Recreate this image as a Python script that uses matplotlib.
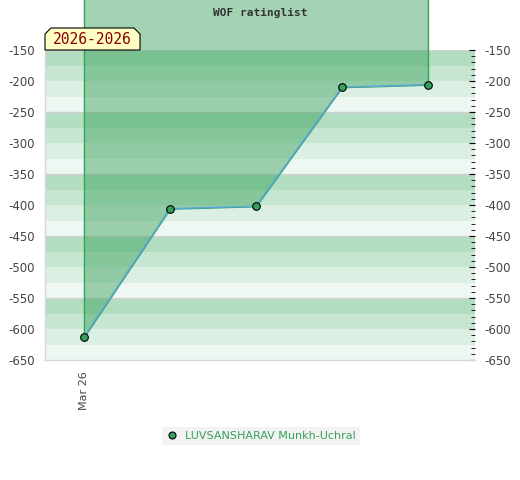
import matplotlib
matplotlib.use("Agg")
import matplotlib.pyplot as plt
import numpy as np
from matplotlib.lines import Line2D
from matplotlib.patches import Polygon

plt.rcParams["axes.unicode_minus"] = False

# data
dates = ["Mar 26", "", "", "", ""]
rating = [-613, -406, -402, -210, -206]
player = "LUVSANSHARAV Munkh-Uchral"
period = "2026-2026"
title = "WOF ratinglist"

y_min, y_max = -650, -150
fill_top = -60
band_colors = ["#b2ddc1", "#c7e6d2", "#dcefe3", "#eff7f2"]

W, H = 520, 480
fig = plt.figure(figsize=(W / 100, H / 100), dpi=100)
ax = fig.add_axes([45 / W, 1 - 360 / H, 430 / W, 310 / H])

x = np.arange(len(rating))

# background bands, 25 rating points each
for i, top in enumerate(range(y_max, y_min, -25)):
    ax.axhspan(top - 25, top, color=band_colors[i % 4], lw=0, zorder=0)
for yy in range(y_max, y_min, -100):
    ax.axhline(yy, color="#d2d2d2", lw=1, zorder=1)

ax.fill_between(x, rating, fill_top, facecolor=(0.208, 0.624, 0.345, 0.45),
                edgecolor="#2fa65a", lw=1, clip_on=False, zorder=2)
ax.plot(x, rating, color="#5aa5dc", lw=1, zorder=3)
ax.plot(x, rating, ls="none", marker="o", ms=5.5, mfc="#35a05a",
        mec="black", mew=0.8, zorder=4, clip_on=False)

ax.set_xlim(-0.453, 4.547)
ax.set_ylim(y_min, y_max)
ax.set_xticks(x)
ax.set_xticklabels(dates, rotation=90, fontsize=8, color="#444444")
ax.tick_params(axis="x", length=0, pad=8)

ax.set_yticks(np.arange(y_min, y_max + 1, 50))
ax.set_yticks(np.arange(y_min, y_max + 1, 10), minor=True)
ax.tick_params(axis="y", which="both", labelsize=8.5, labelcolor="#444444",
               left=False, right=True, labelleft=True, labelright=True,
               direction="in", color="black")
ax.tick_params(axis="y", which="major", length=4, pad=7)
ax.tick_params(axis="y", which="minor", length=3)

for side in ["top", "right"]:
    ax.spines[side].set_visible(False)
for side in ["left", "bottom"]:
    ax.spines[side].set_color("#d8d8d8")
    ax.spines[side].set_linewidth(1)

fig.text(260 / W, 1 - 13 / H, title, ha="center", va="center",
         fontsize=8, fontweight="bold", family="DejaVu Sans Mono",
         color="#333333")

# period label box with chamfered top corners
px = [45, 45, 51, 134, 140, 140]
py = [50, 34, 28, 28, 34, 50]
box = Polygon(np.column_stack([np.array(px) / W, 1 - np.array(py) / H]),
              closed=True, transform=fig.transFigure, facecolor="#ffffc4",
              edgecolor="black", lw=0.8, zorder=10)
fig.add_artist(box)
fig.text(92 / W, 1 - 40 / H, period, ha="center", va="center",
         fontsize=10.5, family="DejaVu Sans Mono", color="#8b0000", zorder=11)

handle = Line2D([], [], ls="none", marker="o", ms=5, mfc="#35a05a",
                mec="black", mew=0.8)
leg = fig.legend([handle], [player], loc="center",
                 bbox_to_anchor=(261 / W, 1 - 436 / H), fontsize=8,
                 frameon=True, fancybox=False, handlelength=1,
                 handletextpad=0.7, borderpad=0.4)
leg.get_frame().set_facecolor("#f0f0f0")
leg.get_frame().set_edgecolor("none")
for t in leg.get_texts():
    t.set_color("#35a05a")

fig.savefig("out.png", dpi=100)
